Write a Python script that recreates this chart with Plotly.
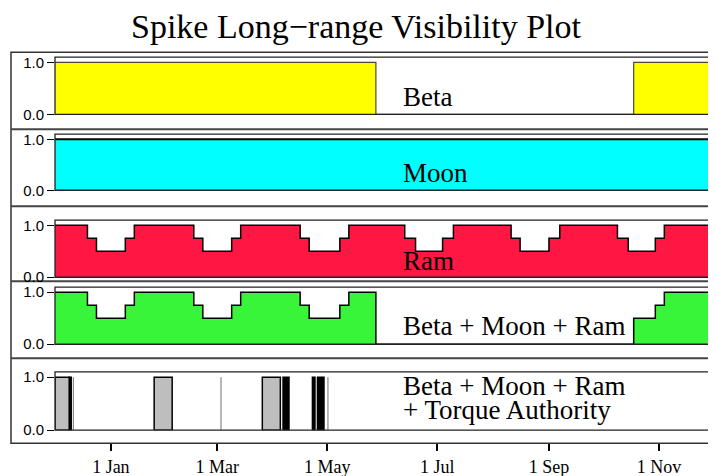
import plotly.graph_objects as go

# ---------------- data ----------------
START = "1997-12-01"
END = "1998-12-01"

beta_x = ["1997-12-01", "1998-05-28", "1998-10-18", "1998-12-01"]
beta_y = [1, 0, 1, 1]

moon_x = ["1997-12-01", "1998-12-01"]
moon_y = [1, 1]

ram_x = ["1997-12-01",
         "1997-12-19", "1997-12-24", "1998-01-09", "1998-01-14",
         "1998-02-16", "1998-02-21", "1998-03-09", "1998-03-14",
         "1998-04-16", "1998-04-21", "1998-05-08", "1998-05-13",
         "1998-06-13", "1998-06-19", "1998-07-04", "1998-07-10",
         "1998-08-11", "1998-08-16", "1998-09-01", "1998-09-07",
         "1998-10-09", "1998-10-15", "1998-10-30", "1998-11-04",
         "1998-12-01"]
ram_y = [1,
         0.75, 0.5, 0.75, 1,
         0.75, 0.5, 0.75, 1,
         0.75, 0.5, 0.75, 1,
         0.75, 0.5, 0.75, 1,
         0.75, 0.5, 0.75, 1,
         0.75, 0.5, 0.75, 1,
         1]

combo_x = ["1997-12-01", "1997-12-19", "1997-12-24", "1998-01-09", "1998-01-14",
           "1998-02-16", "1998-02-21", "1998-03-09", "1998-03-14",
           "1998-04-16", "1998-04-21", "1998-05-08", "1998-05-13",
           "1998-05-28", "1998-10-18", "1998-10-30", "1998-11-04", "1998-12-01"]
combo_y = [1, 0.75, 0.5, 0.75, 1,
           0.75, 0.5, 0.75, 1,
           0.75, 0.5, 0.75, 1,
           0, 0.5, 0.75, 1, 1]

torque_gray_start = ["1997-12-01", "1998-01-25", "1998-03-26"]
torque_gray_end = ["1997-12-09", "1998-02-04", "1998-04-05"]
torque_black_start = ["1997-12-09", "1998-04-06 12:00", "1998-04-22 19:00", "1998-04-25 14:00"]
torque_black_end = ["1997-12-10", "1998-04-09 19:00", "1998-04-24 05:00", "1998-04-29 05:00"]
torque_thin = ["1997-12-11 04:00", "1998-03-03 02:00", "1998-05-01 10:00"]

tick_vals = ["1998-01-01", "1998-03-01", "1998-05-01", "1998-07-01", "1998-09-01", "1998-11-01"]
tick_text = ["1 Jan", "1 Mar", "1 May", "1 Jul", "1 Sep", "1 Nov"]

panel_labels = [["Beta"], ["Moon"], ["Ram"], ["Beta + Moon + Ram"],
                ["Beta + Moon + Ram", "+ Torque Authority"]]

# ---------------- layout geometry (target pixels in the picture) ----------------
W, H = 716, 476
OX, OY = 8, 8          # html body margin
VA, VB = 3.9, 0.975     # measured vertical mapping of the page in the photograph
def px(x):
    return (x - OX) / W
def py(s):
    y = (s - VA) / VB
    return 1 - (y - OY) / H

X_LEFT, X_RIGHT = 55, 713
# (pixel of value 0, pixel of value 1) for each panel
panel_px = [(114, 62), (190, 139), (277, 225), (344, 292), (430, 377)]
YMAX = 1.1
label_y = [[97], [173], [261], [326], [386, 410]]

SERIF = "Liberation Serif, Times New Roman, serif"
SANS = "Liberation Sans, Arial, sans-serif"

fig = go.Figure()

def rects(starts, ends):
    xs, ys = [], []
    for s, e in zip(starts, ends):
        xs += [s, s, e, e, s, None]
        ys += [0, 1, 1, 0, 0, None]
    return xs, ys

fig.add_trace(go.Scatter(x=beta_x, y=beta_y, mode="lines", line_shape="hv",
                         fill="tozeroy", fillcolor="#FFFF00",
                         line=dict(color="#4a4a30", width=1.2),
                         xaxis="x", yaxis="y", hoverinfo="skip"))
fig.add_trace(go.Scatter(x=moon_x, y=moon_y, mode="lines", line_shape="hv",
                         fill="tozeroy", fillcolor="#00FFFF",
                         line=dict(color="#000000", width=2),
                         xaxis="x2", yaxis="y2", hoverinfo="skip"))
fig.add_trace(go.Scatter(x=ram_x, y=ram_y, mode="lines", line_shape="hv",
                         fill="tozeroy", fillcolor="#FF1744",
                         line=dict(color="#000000", width=1.5),
                         xaxis="x3", yaxis="y3", hoverinfo="skip"))
fig.add_trace(go.Scatter(x=combo_x, y=combo_y, mode="lines", line_shape="hv",
                         fill="tozeroy", fillcolor="#39F539",
                         line=dict(color="#000000", width=1.5),
                         xaxis="x4", yaxis="y4", hoverinfo="skip"))
gx, gy = rects(torque_gray_start, torque_gray_end)
fig.add_trace(go.Scatter(x=gx, y=gy, mode="lines", fill="toself",
                         fillcolor="#BEBEBE", line=dict(color="#000000", width=1.5),
                         xaxis="x5", yaxis="y5", hoverinfo="skip"))
bx, by = rects(torque_black_start, torque_black_end)
fig.add_trace(go.Scatter(x=bx, y=by, mode="lines", fill="toself",
                         fillcolor="#000000", line=dict(color="#000000", width=1.5),
                         xaxis="x5", yaxis="y5", hoverinfo="skip"))
tx, ty = [], []
for t in torque_thin:
    tx += [t, t, None]
    ty += [0, 1, None]
fig.add_trace(go.Scatter(x=tx, y=ty, mode="lines",
                         line=dict(color="#707070", width=1),
                         xaxis="x5", yaxis="y5", hoverinfo="skip"))

layout = dict(
    width=W, height=H,
    margin=dict(l=0, r=0, t=0, b=0),
    paper_bgcolor="white", plot_bgcolor="white",
    showlegend=False,
    title=dict(text="Spike Long\u2212range Visibility Plot", x=px(356), xanchor="center",
               y=py(29), yanchor="middle", yref="container",
               font=dict(family=SERIF, size=34, color="black")),
)

shapes = []
annotations = []
for i, (p0, p1) in enumerate(panel_px):
    n = "" if i == 0 else str(i + 1)
    top = p0 - YMAX * (p0 - p1)
    xa = dict(domain=[px(X_LEFT), px(X_RIGHT)], range=[START, END], type="date",
              showgrid=False, zeroline=False, showline=False,
              showticklabels=False, ticks="", anchor="y" + n)
    if i == 4:
        xa.update(anchor="free", position=py(443), showticklabels=True,
                  tickvals=tick_vals, ticktext=tick_text, ticks="outside",
                  ticklen=7, tickwidth=1.5, tickcolor="black",
                  tickfont=dict(family=SERIF, size=18, color="black"))
    ya = dict(domain=[py(p0), py(top)], range=[0, YMAX],
              showgrid=False, zeroline=False, showline=False,
              tickvals=[0, 1], ticktext=["0.0", "1.0"], ticks="outside",
              ticklen=7, tickwidth=1, tickcolor="black",
              tickfont=dict(family=SANS, size=15, color="black"),
              anchor="x" + n)
    layout["xaxis" + n] = xa
    layout["yaxis" + n] = ya
    shapes.append(dict(type="rect", xref="paper", yref="paper",
                       x0=px(X_LEFT), x1=px(X_RIGHT), y0=py(p0), y1=py(top),
                       line=dict(color="#222222", width=1.3), layer="above"))
    for txt, ly in zip(panel_labels[i], label_y[i]):
        annotations.append(dict(text=txt, xref="paper", yref="paper",
                                x=px(401), y=py(ly), xanchor="left", yanchor="middle",
                                align="left", showarrow=False,
                                font=dict(family=SERIF, size=27, color="black")))

# outer frame and panel separators
shapes.append(dict(type="rect", xref="paper", yref="paper",
                   x0=px(11), x1=px(715), y0=py(443), y1=py(52),
                   line=dict(color="#333333", width=1.5), layer="below"))
for ysep in [129, 206, 281, 358]:
    shapes.append(dict(type="line", xref="paper", yref="paper",
                       x0=px(11), x1=px(716), y0=py(ysep), y1=py(ysep),
                       line=dict(color="#444444", width=2), layer="below"))

layout["shapes"] = shapes
layout["annotations"] = annotations
fig.update_layout(**layout)

fig.write_html("out.html")
